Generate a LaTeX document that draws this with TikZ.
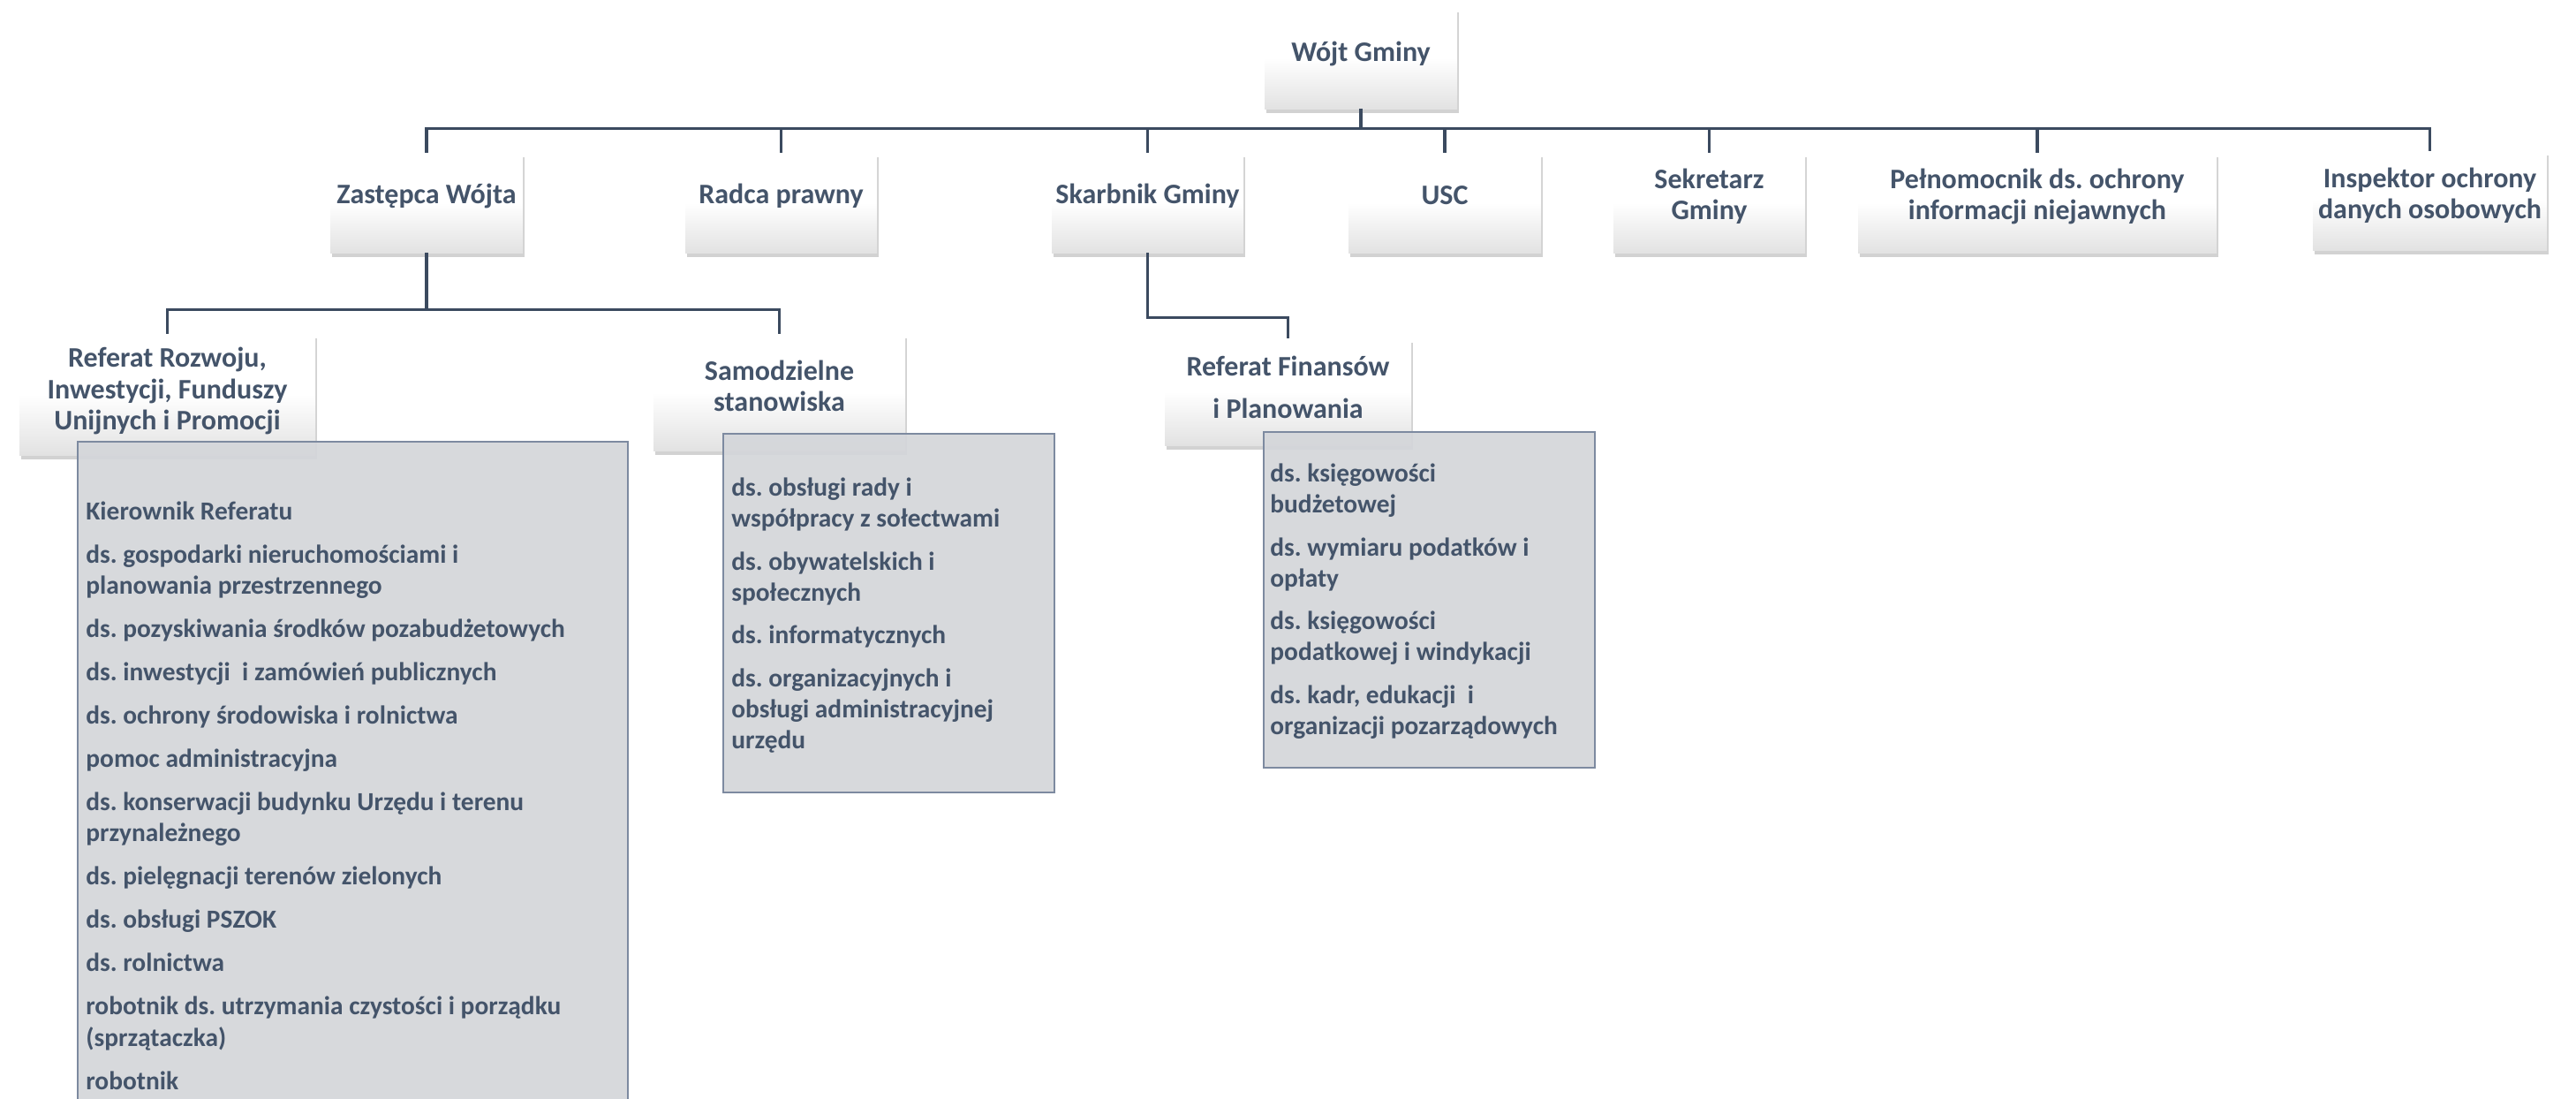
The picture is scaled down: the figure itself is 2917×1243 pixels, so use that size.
\documentclass[tikz,border=0pt]{standalone}
\usepackage{fontspec}
\setmainfont{Carlito}
\usetikzlibrary{shadows,fit}
\definecolor{txt}{HTML}{44546A}
\definecolor{ln}{HTML}{3B4A5F}
\definecolor{greyfill}{HTML}{D4D6DA}
\definecolor{greyedge}{HTML}{7D8AA0}
\definecolor{boxbot}{HTML}{E2E2E2}
\frenchspacing
\begin{document}
\begin{tikzpicture}[x=0.5pt,y=-0.5pt,
 hdr/.style={inner sep=0, draw=none, top color=white, bottom color=boxbot, middle color=white,
   drop shadow={opacity=0.35, shadow xshift=1.2pt, shadow yshift=-2.5pt}},
 hdrtext/.style={align=center, text=txt, font=\bfseries\fontsize{16}{17.7}\selectfont, inner sep=0},
 conn/.style={draw=ln, line width=1.6pt},
 listbox/.style={inner sep=0, draw=greyedge, line width=0.8pt, fill=greyfill, fill opacity=0.92},
 listtext/.style={align=left, text=txt, font=\bfseries\fontsize{14.7}{17.6}\selectfont, inner sep=0, anchor=north west}]
\useasboundingbox[fill=white] (0,0) rectangle (2917,1243);

% header boxes
\node[hdr, fit={(1432,9) (1650,123)}] (wojt) {};
\node[hdrtext] (wojt-t) at ([yshift=2.5pt]wojt.center) {Wójt Gminy};

\node[hdr, fit={(374,173) (592,286)}] (zast) {};
\node[hdrtext] (zast-t) at ([yshift=4pt]zast.center) {Zastępca Wójta};
\node[hdr, fit={(776,173) (993,286)}] (radca) {};
\node[hdrtext] (radca-t) at ([yshift=4pt]radca.center) {Radca prawny};
\node[hdr, fit={(1191,173) (1408,286)}] (skarb) {};
\node[hdrtext] (skarb-t) at ([yshift=4pt]skarb.center) {Skarbnik Gminy};
\node[hdr, fit={(1527,173) (1745,286)}] (usc) {};
\node[hdrtext] (usc-t) at ([yshift=4pt]usc.center) {USC};
\node[hdr, fit={(1827,173) (2044,286)}] (sekr) {};
\node[hdrtext] (sekr-t) at ([yshift=3.5pt]sekr.center) {Sekretarz\\Gminy};
\node[hdr, fit={(2104,173) (2510,286)}] (peln) {};
\node[hdrtext] (peln-t) at ([yshift=3.5pt]peln.center) {Pełnomocnik ds. ochrony\\informacji niejawnych};
\node[hdr, fit={(2619,171) (2884,283)}] (insp) {};
\node[hdrtext] (insp-t) at ([yshift=3pt]insp.center) {Inspektor ochrony\\danych osobowych};

\node[hdr, fit={(22,378) (357,515)}] (rr) {};
\node[hdrtext] (rr-t) at ([yshift=2pt]rr.center) {Referat Rozwoju,\\Inwestycji, Funduszy\\Unijnych i Promocji};
\node[hdr, fit={(740,378) (1025,510)}] (samo) {};
\node[hdrtext] (samo-t) at ([yshift=3.5pt]samo.center) {Samodzielne\\stanowiska};
\node[hdr, fit={(1319,383) (1598,504)}] (fin) {};
\node[hdrtext] (fin-t) at ([yshift=2.5pt]fin.center) {Referat Finansów\\[6.5pt]i Planowania};

% connectors
\foreach \c in {zast,radca,skarb,usc,sekr,peln,insp}
  \draw[conn] (wojt.south) -- ++(0,22) -| (\c.north);
\draw[conn] (zast.south) -- ++(0,64) -| (rr.north);
\draw[conn] (zast.south) -- ++(0,64) -| (samo.north);
\draw[conn] (skarb.south) -- ++(0,73) -| (fin.north);

% grey lists
\node[listbox, fit={(88,500) (711,1265)}] (rrlist) {};
\node[listbox, fit={(819,491) (1194,897)}] (samolist) {};
\node[listbox, fit={(1431,489) (1806,869)}] (finlist) {};

\node[listtext] (rrlist-t) at (97,564) {\rule{0pt}{12pt}Kierownik Referatu\\[6.9pt]
ds. gospodarki nieruchomościami i\\planowania przestrzennego\\[6.9pt]
ds. pozyskiwania środków pozabudżetowych\\[6.9pt]
ds. inwestycji\ \ i zamówień publicznych\\[6.9pt]
ds. ochrony środowiska i rolnictwa\\[6.9pt]
pomoc administracyjna\\[6.9pt]
ds. konserwacji budynku Urzędu i terenu\\przynależnego\\[6.9pt]
ds. pielęgnacji terenów zielonych\\[6.9pt]
ds. obsługi PSZOK\\[6.9pt]
ds. rolnictwa\\[6.9pt]
robotnik ds. utrzymania czystości i porządku\\(sprzątaczka)\\[6.9pt]
robotnik};

\node[listtext] (samolist-t) at (828,537) {\rule{0pt}{12pt}ds. obsługi rady i\\współpracy z sołectwami\\[6.6pt]
ds. obywatelskich i\\społecznych\\[6.6pt]
ds. informatycznych\\[6.6pt]
ds. organizacyjnych i\\obsługi administracyjnej\\urzędu};

\node[listtext] (finlist-t) at (1438,521) {\rule{0pt}{12pt}ds. księgowości\\budżetowej\\[6.6pt]
ds. wymiaru podatków i\\opłaty\\[6.6pt]
ds. księgowości\\podatkowej i windykacji\\[6.6pt]
ds. kadr, edukacji\ \ i\\organizacji pozarządowych};
\end{tikzpicture}
\end{document}
